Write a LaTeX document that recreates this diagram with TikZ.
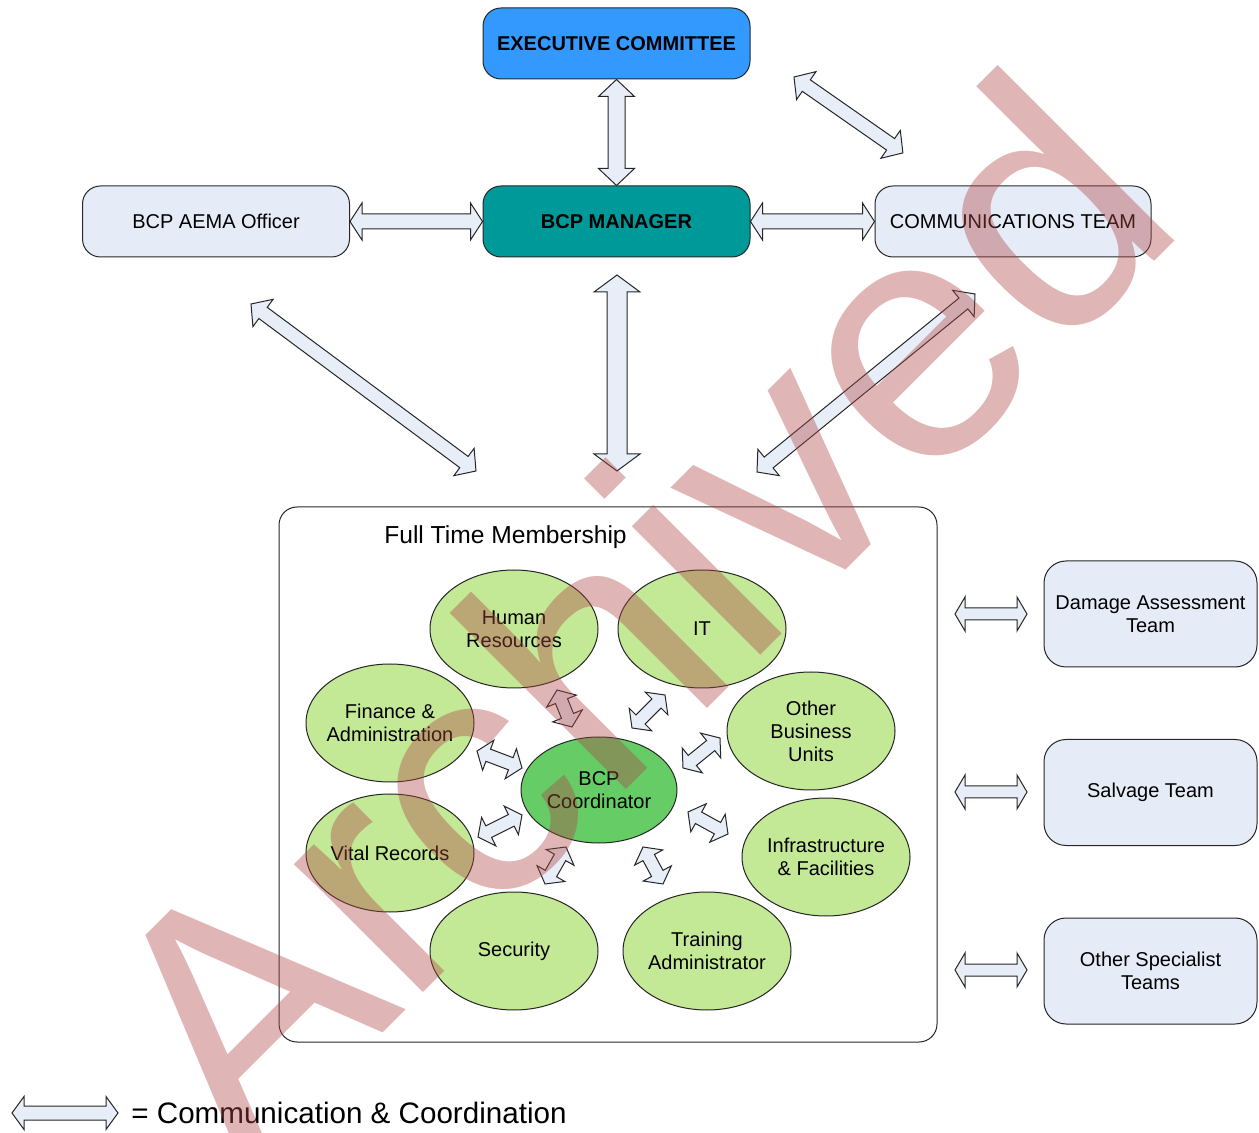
\documentclass[tikz,border=0pt]{standalone}
\usepackage{fontspec}
\setmainfont{Liberation Sans}
\usetikzlibrary{calc,shapes.geometric}

\definecolor{execblue}{RGB}{51,153,255}
\definecolor{mgrteal}{RGB}{0,153,153}
\definecolor{teamfill}{RGB}{230,236,247}
\definecolor{unitgreen}{RGB}{195,232,150}
\definecolor{coordgreen}{RGB}{102,204,102}
\definecolor{arrowfill}{RGB}{232,238,248}
\definecolor{stampred}{RGB}{175,70,70}

% two-headed block arrow: #1 tail, #2 head, #3 half shaft, #4 half head, #5 head length (pt)
\newcommand{\commarrow}[5]{%
  \path let \p1=($(#2)-(#1)$) in
    \pgfextra{\pgfmathsetmacro{\arrang}{atan2(\y1,\x1)}\global\let\arrang\arrang
              \pgfmathsetmacro{\arrlen}{veclen(\x1,\y1)}\global\let\arrlen\arrlen};
  \draw[arrowbody,shift={(#1)},rotate=\arrang]
    (0pt,0pt) -- (#5pt,#4pt) -- (#5pt,#3pt) -- (\arrlen pt-#5pt,#3pt)
    -- (\arrlen pt-#5pt,#4pt) -- (\arrlen pt,0pt) -- (\arrlen pt-#5pt,-#4pt)
    -- (\arrlen pt-#5pt,-#3pt) -- (#5pt,-#3pt) -- (#5pt,-#4pt) -- cycle;
}

\begin{document}
\begin{tikzpicture}[x=0.5pt,y=-0.5pt,
  toptext/.style={font=\fontsize{10}{11.5}\selectfont},
  topbox/.style={toptext,draw=black!85,line width=0.5pt,rounded corners=9pt,
    minimum width=133.5pt,minimum height=35.5pt,inner sep=0pt},
  teambox/.style={toptext,draw=black!85,fill=teamfill,line width=0.5pt,rounded corners=11pt,
    minimum width=106.5pt,minimum height=53pt,inner sep=0pt,align=center},
  unit/.style={toptext,ellipse,draw=black!85,fill=unitgreen,line width=0.5pt,
    minimum width=84pt,minimum height=59pt,inner xsep=-4pt,inner ysep=0pt,align=center},
  arrowbody/.style={draw=black!85,fill=arrowfill,line width=0.5pt,line join=miter}]
\useasboundingbox (0,0) rectangle (1259,1133);

% Top row
\node[topbox,fill=execblue,font=\fontsize{10}{11.5}\selectfont\bfseries] (exec) at (616.5,43.5) {EXECUTIVE COMMITTEE};
\node[topbox,fill=mgrteal,font=\fontsize{10}{11.5}\selectfont\bfseries] (mgr) at (616.5,221.5) {BCP MANAGER};
\node[topbox,fill=teamfill] (aema) at (216,221.5) {BCP AEMA Officer};
\node[topbox,fill=teamfill,minimum width=138pt] (comms) at (1013,221.5) {COMMUNICATIONS TEAM};

% Membership box
\node[draw=black!85,line width=0.5pt,rounded corners=9pt,minimum width=329pt,
  minimum height=267.5pt,inner sep=0pt] (ftm) at (608,774.5) {};
\node[font=\fontsize{12.3}{14}\selectfont] (ftmlabel) at (505.5,537) {Full Time Membership};

% Units
\node[unit] (hr) at (514,629) {Human\\Resources};
\node[unit] (it) at (702,629) {IT};
\node[unit] (obu) at (811,731) {Other\\Business\\Units};
\node[unit] (fin) at (390,723) {Finance \&\\Administration};
\node[unit] (vital) at (390,853) {Vital Records};
\node[unit] (infra) at (826,857) {Infrastructure\\\& Facilities};
\node[unit] (sec) at (514,951) {Security};
\node[unit] (train) at (707,951) {Training\\Administrator};
\node[unit,fill=coordgreen,minimum width=78pt,minimum height=53pt] (coord) at (599,790) {BCP\\Coordinator};

% Specialist teams
\node[teambox] (damage) at (1150.5,614) {Damage Assessment\\Team};
\node[teambox] (salvage) at (1150.5,792.5) {Salvage Team};
\node[teambox] (special) at (1150.5,971) {Other Specialist\\Teams};

% Arrow ends
\coordinate (trA) at (794,77);   \coordinate (trB) at (903,153);
\coordinate (lfA) at (251,304);  \coordinate (lfB) at (476,471);
\coordinate (rtA) at (975,294);  \coordinate (rtB) at (757,472);
\coordinate (mdA) at (617,275);  \coordinate (mdB) at (617,471);
\coordinate (daA) at (955,614);  \coordinate (daB) at (1027,614);
\coordinate (svA) at (955,792);  \coordinate (svB) at (1027,792);
\coordinate (osA) at (955,970);  \coordinate (osB) at (1027,970);
\coordinate (hrA) at (557,690);  \coordinate (hrB) at (572,727);
\coordinate (itA) at (632,728);  \coordinate (itB) at (665,695);
\coordinate (obA) at (683,768);  \coordinate (obB) at (720,738);
\coordinate (inA) at (688,812);  \coordinate (inB) at (728,834);
\coordinate (trnA) at (643,847); \coordinate (trnB) at (663,884);
\coordinate (scA) at (566,847);  \coordinate (scB) at (545,884);
\coordinate (vrA) at (522,815);  \coordinate (vrB) at (478,837);
\coordinate (fnA) at (477,751);  \coordinate (fnB) at (522,768);
\coordinate (lgA) at (12,1113);  \coordinate (lgB) at (118,1113);

% Arrows, top
\commarrow{exec.south}{mgr.north}{4.25}{9}{8.5}
\commarrow{aema.east}{mgr.west}{3.75}{9.25}{6}
\commarrow{mgr.east}{comms.west}{3.75}{9.25}{6}
\commarrow{trA}{trB}{3.5}{8.5}{7.5}
\commarrow{lfA}{lfB}{3.5}{8.5}{7.5}
\commarrow{rtA}{rtB}{3.5}{8.5}{7.5}
\commarrow{mdA}{mdB}{5}{11.5}{8.5}

% Arrows, teams
\commarrow{daA}{daB}{3}{8.5}{5}
\commarrow{svA}{svB}{3}{8.5}{5}
\commarrow{osA}{osB}{3}{8.5}{5}

% Arrows round the coordinator
\commarrow{hrA}{hrB}{3.25}{8}{6}
\commarrow{itA}{itB}{3.25}{8}{6}
\commarrow{obA}{obB}{3.25}{8}{6}
\commarrow{inA}{inB}{3.25}{8}{6}
\commarrow{trnA}{trnB}{3.25}{8}{6}
\commarrow{scA}{scB}{3.25}{8}{6}
\commarrow{vrA}{vrB}{3.25}{8}{6}
\commarrow{fnA}{fnB}{3.25}{8}{6}

% Legend
\commarrow{lgA}{lgB}{3.5}{8.25}{6}
\node[anchor=west,inner sep=0pt,font=\fontsize{14.8}{17}\selectfont] (legend) at (131,1113) {= Communication \& Coordination};

% Watermark
\node[anchor=base west,rotate=45,inner sep=0pt,text=stampred,text opacity=0.4,
  font=\fontsize{172}{172}\selectfont] (stamp) at (244,1172) {Archived};

\end{tikzpicture}
\end{document}
